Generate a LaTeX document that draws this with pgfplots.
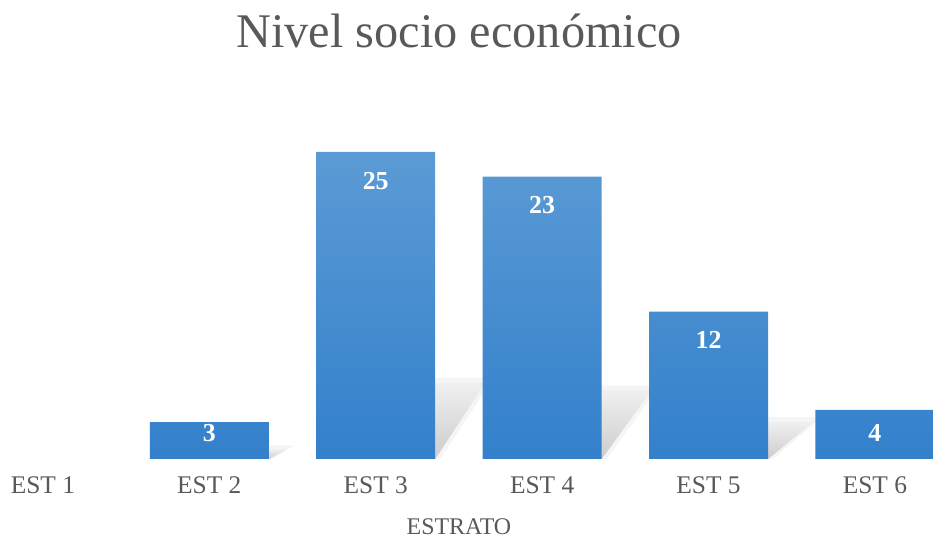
\documentclass[border=0pt]{standalone}
\usepackage{fontspec}
\setmainfont{Liberation Serif}
\usepackage{pgfplots}
\pgfplotsset{compat=1.18}
\definecolor{txt}{HTML}{595959}
\definecolor{btop}{HTML}{5B9BD5}
\definecolor{bbot}{HTML}{3380CB}
\tikzset{lbl/.style={font=\bfseries\fontsize{26}{30}\selectfont, text=white, anchor=north, inner sep=0pt}}
\begin{document}
\begin{tikzpicture}[x=1bp,y=1bp]
\begin{axis}[
  width=933bp, height=350bp, scale only axis,
  xmin=-0.258, xmax=5.349, ymin=0, ymax=28.5,
  /pgf/number format/assume math mode=true,
  axis line style={draw=none},
  major tick length=0pt,
  ytick=\empty,
  xtick={0,1,2,3,4,5},
  xticklabels={EST 1,EST 2,EST 3,EST 4,EST 5,EST 6},
  xticklabel style={font=\fontsize{25.5}{30}\selectfont, text=txt, anchor=base, yshift=-35bp},
  xlabel={ESTRATO},
  xlabel style={at={(axis cs:2.5,0)}, anchor=base, yshift=-76bp, font=\fontsize{24}{28}\selectfont, text=txt},
  shadowstyle/.style={draw=none, top color=gray!12, bottom color=gray!40, forget plot},
  shadowsoft/.style={draw=none, fill=gray!30, fill opacity=0.25, forget plot},
]
% soft outer halo of the shadows
\addplot[shadowsoft] coordinates {(0.642,0) (0.772,1.1) (1.508,1.1) (1.378,0)} -- cycle;
\addplot[shadowsoft] coordinates {(1.642,0) (1.962,6.6) (2.708,6.6) (2.388,0)} -- cycle;
\addplot[shadowsoft] coordinates {(2.642,0) (2.962,6.0) (3.708,6.0) (3.388,0)} -- cycle;
\addplot[shadowsoft] coordinates {(3.642,0) (3.932,3.4) (4.678,3.4) (4.388,0)} -- cycle;
% shadows
\addplot[shadowstyle] coordinates {(0.642,0) (0.752,0.8) (1.468,0.8) (1.358,0)} -- cycle;
\addplot[shadowstyle] coordinates {(1.642,0) (1.942,6.2) (2.658,6.2) (2.358,0)} -- cycle;
\addplot[shadowstyle] coordinates {(2.642,0) (2.942,5.6) (3.658,5.6) (3.358,0)} -- cycle;
\addplot[shadowstyle] coordinates {(3.642,0) (3.912,3.0) (4.628,3.0) (4.358,0)} -- cycle;
\addplot[shadowstyle] coordinates {(4.642,0) (4.792,1.0) (5.508,1.0) (5.358,0)} -- cycle;
% bars
\addplot[ybar, bar width=119bp, bar shift=0pt, draw=none, top color=btop, bottom color=bbot, forget plot]
  coordinates {(1,3) (2,25) (3,23) (4,12) (5,4)};
% labels inside the tall bars
\addplot[draw=none, mark=none, forget plot, point meta=explicit symbolic, nodes near coords,
  every node near coord/.append style={lbl, yshift=-20bp}]
  coordinates {(2,25)[25] (3,23)[23] (4,12)[12]};
% labels of the short bars
\addplot[draw=none, mark=none, forget plot, point meta=explicit symbolic, nodes near coords,
  every node near coord/.append style={lbl}]
  coordinates {(1,2.84)[3] (5,2.84)[4]};
\coordinate (BL) at (axis cs:-0.258,0);
\end{axis}
\pgfresetboundingbox
\path[use as bounding box] (BL) ++(0,-81) rectangle ++(933,540);
\path (BL) ++(459,411) node[anchor=base, font=\fontsize{48.5}{58}\selectfont, text=txt, inner sep=0pt] {Nivel socio económico};
\end{tikzpicture}
\end{document}
